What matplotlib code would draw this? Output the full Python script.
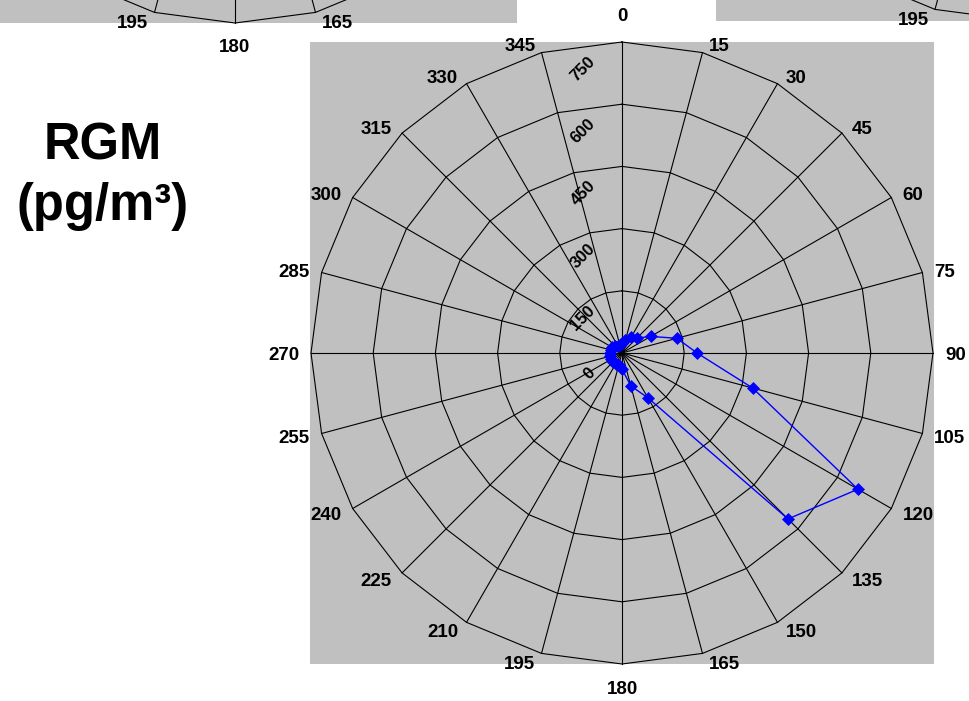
import numpy as np
import matplotlib
matplotlib.use('Agg')
import matplotlib.pyplot as plt
from matplotlib.patches import Rectangle

plt.rcParams['font.family'] = ['Liberation Sans', 'DejaVu Sans']

# wind sectors (deg) and RGM per sector (pg/m3)
directions = list(range(0, 360, 15))
rgm_values = [25, 32, 45, 51, 80, 137, 181, 326, 657, 566, 125, 82,
              39, 30, 30, 32, 30, 30, 30, 28, 27, 24, 20, 20]
radial_ticks = [0, 150, 300, 450, 600, 750]
r_max = 750

W, H = 970, 701   # figure size in px
R = 311           # outer radius of a radar, px
GRAY = '#c0c0c0'


def add_gray(fig, x0, y0, x1, y1):
    # plot-area background, given in pixels from the top-left corner
    fig.add_artist(Rectangle((x0 / W, 1 - y1 / H), (x1 - x0) / W, (y1 - y0) / H,
                             transform=fig.transFigure, facecolor=GRAY,
                             edgecolor='none', zorder=-5))


def radar(fig, cx, cy, values=None, dir_labels=None, value_labels=True):
    ax = fig.add_axes([(cx - R) / W, (H - cy - R) / H, 2 * R / W, 2 * R / H],
                      projection='polar')
    ax.set_theta_zero_location('N')
    ax.set_theta_direction(-1)
    ax.set_ylim(0, r_max)
    ax.set_facecolor('none')
    ax.spines['polar'].set_visible(False)
    ax.grid(False)
    ax.set_xticks([])
    ax.set_yticks([])

    th = np.deg2rad(directions + [directions[0]])

    # polygon rings + spokes (Excel style)
    for r in radial_ticks[1:]:
        ax.plot(th, [r] * len(th), color='black', lw=0.8, clip_on=False)
    for t in th[:-1]:
        ax.plot([t, t], [0, r_max], color='black', lw=0.8, clip_on=False)

    # direction labels
    if dir_labels is None:
        dir_labels = directions
    for d in dir_labels:
        s, c = np.sin(np.deg2rad(d)), np.cos(np.deg2rad(d))
        if abs(s) < 1e-6:
            ha, dx = 'center', 0
            dy = 26 if c > 0 else -25
        else:
            ha = 'left' if s > 0 else 'right'
            dx = np.sign(s) * 12 * np.sqrt(abs(s))
            dy = 8.5 * c - 2.5
        ax.annotate(str(d), (np.deg2rad(d), r_max), xytext=(dx, dy),
                    textcoords='offset pixels', ha=ha, va='center',
                    fontsize=13.5, fontweight='bold', annotation_clip=False)

    # radial value labels
    if value_labels:
        for v in radial_ticks:
            ax.annotate(str(v), (0, v), xytext=(-24, -12), textcoords='offset pixels',
                        ha='right', va='top', rotation=45, fontsize=12,
                        fontweight='bold', annotation_clip=False)

    if values is not None:
        ax.plot(th, values + [values[0]], color='#0000ff', lw=1, marker='D',
                ms=6, mew=0.5, clip_on=False, zorder=5)
    return ax


fig = plt.figure(figsize=(W / 100, H / 100), dpi=100)
fig.patch.set_facecolor('white')

# bits of the neighbouring panels at the top edge
add_gray(fig, 0, 0, 517, 22.5)
add_gray(fig, 716, 0, 970, 20.5)
radar(fig, 235, -288, dir_labels=[165, 180, 195], value_labels=False)
radar(fig, 1015.5, -291, dir_labels=[195], value_labels=False)

# main panel
add_gray(fig, 310, 42, 934, 664)
radar(fig, 622, 353, rgm_values)

fig.text(103 / W, 1 - 159.5 / H, 'RGM', ha='center', va='baseline',
         fontsize=36.5, fontweight='bold')
fig.text(103 / W, 1 - 220 / H, '(pg/m³)', ha='center', va='baseline',
         fontsize=36.5, fontweight='bold')

fig.savefig('out.png', dpi=100, facecolor='white')
